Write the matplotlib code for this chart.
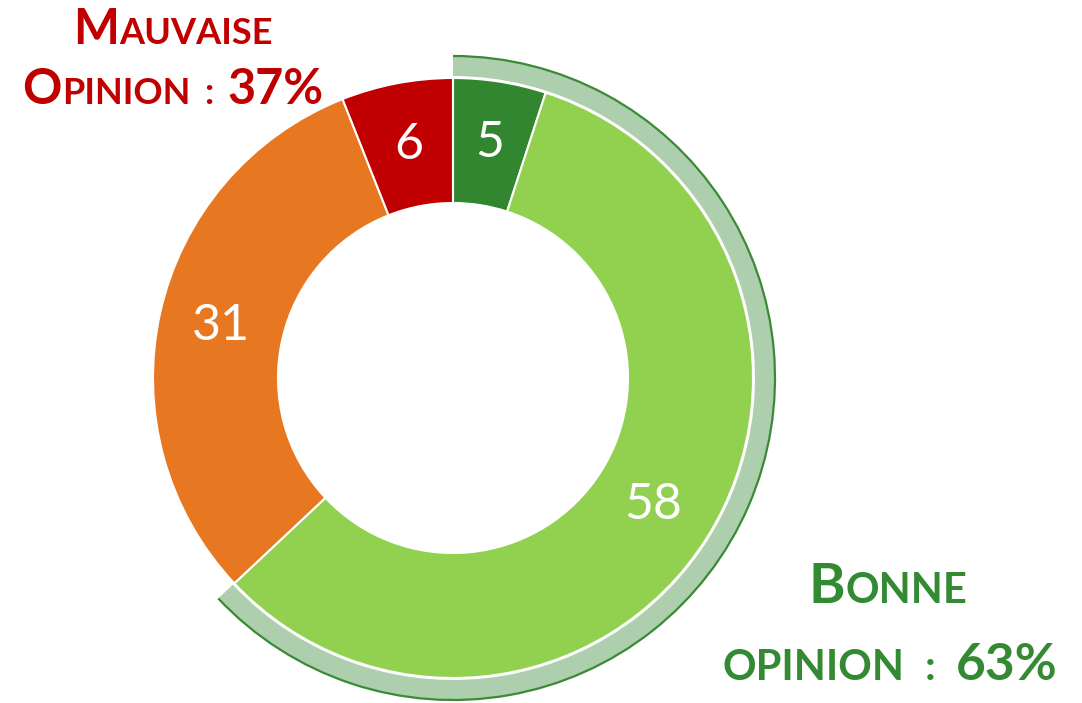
import numpy as np
import matplotlib
matplotlib.use("Agg")
import matplotlib.pyplot as plt
from matplotlib.patches import Wedge, Arc

# ---- data ----
categories = ["Très bonne", "Plutôt bonne", "Plutôt mauvaise", "Très mauvaise"]
values = [5, 58, 31, 6]
colors = ["#31862F", "#92D050", "#E87722", "#C00000"]

W, H = 1082, 703
fig = plt.figure(figsize=(W / 100, H / 100), dpi=100)
ax = fig.add_axes([0, 0, 1, 1])
ax.set_xlim(0, W)
ax.set_ylim(0, H)
ax.axis("off")

FONT = "Lato"
cx, cy = 453, H - 378
R_out, R_in = 300, 175

wedges, _ = ax.pie(values, startangle=90, counterclock=False, colors=colors,
                   radius=R_out, center=(cx, cy),
                   wedgeprops=dict(width=R_out - R_in, edgecolor="white", linewidth=1.5))
ax.set_xlim(0, W)
ax.set_ylim(0, H)
ax.set_aspect("equal")

# outer highlight arc for "bonne opinion"
total = sum(values)
good = values[0] + values[1]
theta_end = 90
theta_start = 90 - 360 * good / total
ax.add_patch(Wedge((cx, cy), 322, theta_start, theta_end, width=20,
                   facecolor="#ADCFAD", edgecolor="none"))
ax.add_patch(Arc((cx, cy), 2 * 322, 2 * 322, theta1=theta_start, theta2=theta_end,
                 color="#3A8A36", lw=1.6))

# value labels
cum = np.cumsum([0] + values)
r_lab = (R_out + R_in) / 2
for i, v in enumerate(values):
    mid = 90 - 360 * (cum[i] + v / 2) / total
    x = cx + r_lab * np.cos(np.radians(mid))
    y = cy + r_lab * np.sin(np.radians(mid))
    ax.text(x, y, str(v), ha="center", va="center", color="white",
            fontsize=36, family=FONT)

renderer = fig.canvas.get_renderer()


def draw_line(segs, xc, base_img, color):
    """segs: list of (text, size) or numeric gap in px"""
    base = H - base_img
    items = []
    total_w = 0
    for s in segs:
        if isinstance(s, (int, float)):
            items.append((None, s))
            total_w += s
        else:
            t = ax.text(0, base, s[0], fontsize=s[1], fontweight="bold",
                        family=FONT, color=color, va="baseline", ha="left")
            w = t.get_window_extent(renderer).width
            items.append((t, w))
            total_w += w
    x = xc - total_w / 2
    for t, w in items:
        if t is not None:
            t.set_x(x)
        x += w


red = "#C00000"
green = "#348A33"
draw_line([("M", 35), ("AUVAISE", 26)], 173, 44, red)
draw_line([("O", 35), ("PINION", 26), 14, (":", 26), 14, ("37%", 35)], 173, 104, red)
draw_line([("B", 40), ("ONNE", 30)], 888, 603, green)
draw_line([("OPINION", 30), 20, (":", 30), 20, ("63%", 37)], 890, 680, green)

fig.savefig("out.png", dpi=100)
